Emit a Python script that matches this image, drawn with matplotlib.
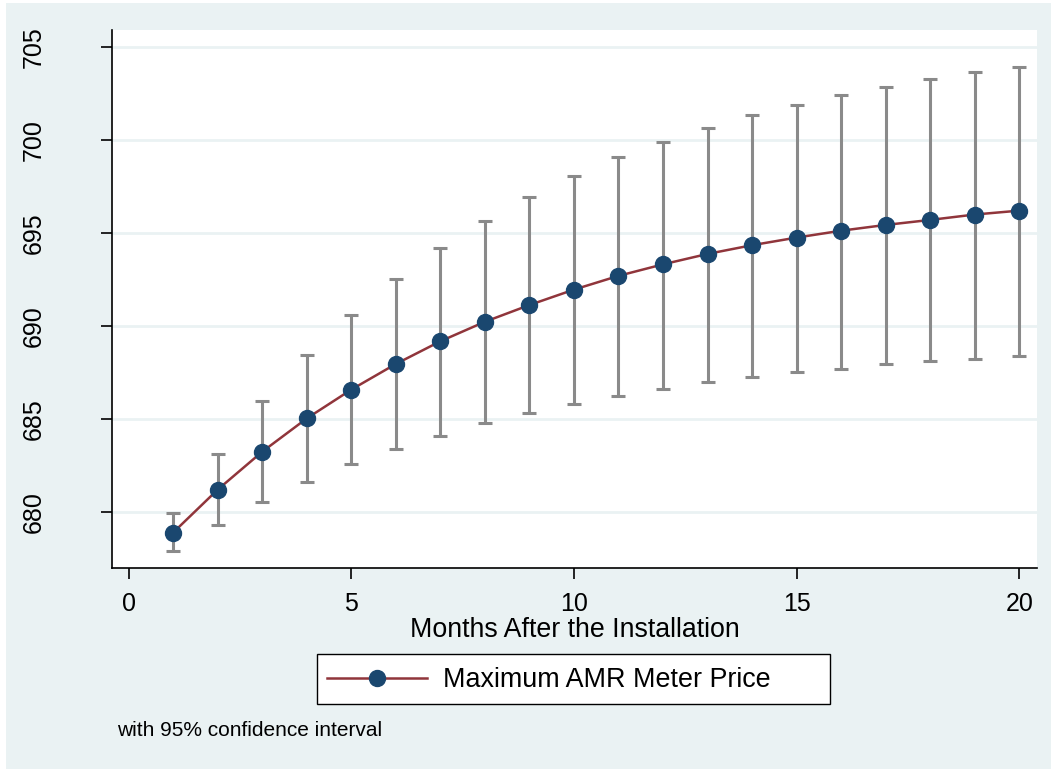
import matplotlib.pyplot as plt
import matplotlib as mpl
from matplotlib.patches import Rectangle

mpl.rcParams.update({
    "font.family": ["Liberation Sans", "DejaVu Sans"],
    "font.size": 18,
})

# ---- data ----
months = list(range(1, 21))
price = [678.89, 681.20, 683.24, 685.03, 686.58, 687.96, 689.18, 690.23, 691.13, 691.96,
         692.70, 693.32, 693.88, 694.35, 694.76, 695.13, 695.44, 695.71, 696.00, 696.21]
ci_hi = [679.94, 683.13, 685.96, 688.43, 690.60, 692.52, 694.21, 695.65, 696.93, 698.06,
         699.07, 699.92, 700.66, 701.34, 701.92, 702.43, 702.87, 703.28, 703.65, 703.96]
ci_lo = [677.88, 679.28, 680.54, 681.59, 682.56, 683.38, 684.10, 684.76, 685.30, 685.81,
         686.25, 686.60, 686.97, 687.24, 687.53, 687.71, 687.94, 688.10, 688.25, 688.37]
xticks = [0, 5, 10, 15, 20]
yticks = [680, 685, 690, 695, 700, 705]

bg = '#EAF2F3'
navy = '#1A476F'
maroon = '#90353B'
grey = '#8A8A8A'

W, H = 1051, 769
fig = plt.figure(figsize=(W / 100, H / 100), dpi=100, facecolor='white')
# Stata graph region (thin white margin at left/top)
fig.patches.append(Rectangle((6 / W, 0), 1 - 6 / W, 1 - 3 / H, transform=fig.transFigure,
                             facecolor=bg, edgecolor='none', zorder=-10))

ax = fig.add_axes([112 / W, 1 - 568 / H, (1037 - 112) / W, (568 - 30) / H])
ax.set_facecolor('white')

yerr = [[p - l for p, l in zip(price, ci_lo)], [h - p for p, h in zip(price, ci_hi)]]
ax.errorbar(months, price, yerr=yerr, fmt='none', ecolor=grey, elinewidth=2.2,
            capsize=5, capthick=2.2, zorder=2)
line, = ax.plot(months, price, color=maroon, linewidth=1.8, marker='o', markersize=11.5,
                markerfacecolor=navy, markeredgecolor=navy, zorder=3)

ax.set_xlim(-0.375, 20.4)
ax.set_ylim(676.98, 705.93)
ax.set_xticks(xticks)
ax.set_yticks(yticks)
ax.set_yticklabels([str(v) for v in yticks], rotation=90, va='center')
ax.tick_params(axis='both', length=8, width=1.2, color='black', labelsize=18)
ax.tick_params(axis='x', pad=9)
ax.tick_params(axis='y', pad=40)

ax.grid(True, axis='y', color=bg, linewidth=2)
ax.set_axisbelow(True)
for s in ['top', 'right']:
    ax.spines[s].set_visible(False)
for s in ['left', 'bottom']:
    ax.spines[s].set_linewidth(1.2)
    ax.spines[s].set_color('black')

ax.set_xlabel('Months After the Installation', fontsize=19.3, labelpad=1)

# legend box drawn by hand so the right padding matches the Stata box
fig.patches.append(Rectangle((317 / W, 1 - 704 / H), (830 - 317) / W, 50 / H,
                             transform=fig.transFigure, facecolor='white',
                             edgecolor='black', linewidth=1.0, zorder=1))
leg = fig.legend([line], ['Maximum AMR Meter Price'], loc='center left',
                 bbox_to_anchor=(327 / W, 1 - 680 / H), frameon=False, fontsize=19.4,
                 handlelength=3.7, handletextpad=0.6, borderpad=0, borderaxespad=0)
leg.set_zorder(2)

fig.text(117 / W, 1 - 730 / H, 'with 95% confidence interval', fontsize=15,
         ha='left', va='center')

fig.savefig('out.png', dpi=100, facecolor='white')
